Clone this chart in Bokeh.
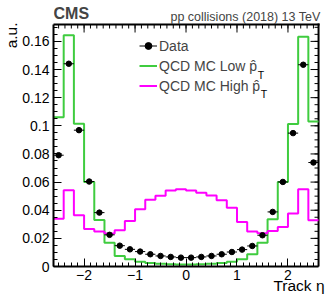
import numpy as np
from bokeh.plotting import figure
from bokeh.models import (Range1d, FixedTicker, CustomJSTickFormatter,
                          Label, Legend, LegendItem, Title)
from bokeh.embed import file_html
from bokeh.resources import INLINE

# ---------------- data ----------------
eta_centers = [-2.5, -2.3, -2.1, -1.9, -1.7, -1.5, -1.3, -1.1, -0.9, -0.7, -0.5, -0.3, -0.1,
               0.1, 0.3, 0.5, 0.7, 0.9, 1.1, 1.3, 1.5, 1.7, 1.9, 2.1, 2.3, 2.5]
bin_width = 0.2

data_vals = [0.0791, 0.1441, 0.0969, 0.0604, 0.0383, 0.0225, 0.0148, 0.0122, 0.0106, 0.0087,
             0.0075, 0.0068, 0.0063, 0.0063, 0.0068, 0.0075, 0.0087, 0.0103, 0.0120, 0.0146,
             0.0222, 0.0388, 0.0601, 0.0948, 0.1434, 0.0739]

low_pt_vals = [0.1060, 0.1643, 0.1015, 0.0600, 0.0331, 0.0168, 0.0075, 0.0052, 0.0033, 0.0024,
               0.0019, 0.0016, 0.0015, 0.0015, 0.0016, 0.0019, 0.0024, 0.0034, 0.0051, 0.0087,
               0.0169, 0.0336, 0.0601, 0.1012, 0.1633, 0.1031]

high_pt_vals = [0.0340, 0.0542, 0.0364, 0.0267, 0.0248, 0.0234, 0.0258, 0.0324, 0.0407, 0.0475,
                0.0502, 0.0540, 0.0549, 0.0540, 0.0525, 0.0505, 0.0470, 0.0418, 0.0317, 0.0248,
                0.0236, 0.0253, 0.0281, 0.0376, 0.0549, 0.0329]

x_tick_values = [-2, -1, 0, 1, 2]
y_tick_values = [0, 0.02, 0.04, 0.06, 0.08, 0.10, 0.12, 0.14, 0.16]

legend_labels = ["Data", "QCD MC Low p\u0302", "QCD MC High p\u0302"]
x_title = "Track \u03b7"
y_title = "a.u."

# ---------------- style / geometry ----------------
FONT = "Liberation Sans"
GREEN = "#3fcc3f"
MAGENTA = "#ff00ff"
W, H = 332, 302
X0, X1 = -2.6, 2.6          # histogram box
Y0, Y1 = 0.0, 0.172
ML, MB = 52, 36             # pixel space for the left and bottom axes
MR, MT = 1, 1               # small canvas margins right / top of the frame
BOX_R, BOX_T = 14, 24       # pixel gaps right of / above the histogram box
ppx = (W - ML - BOX_R) / (X1 - X0)
ppy = (H - MB - BOX_T) / (Y1 - Y0)
XE = X1 + (BOX_R - MR) / ppx   # frame reaches (almost) the canvas edge, header texts inside it
YE = Y1 + (BOX_T - MT) / ppy

p = figure(width=W, height=H, output_backend="svg", toolbar_location=None,
           x_range=Range1d(X0, XE), y_range=Range1d(Y0, YE),
           min_border_left=ML, min_border_right=MR, min_border_top=MT, min_border_bottom=MB)
p.xgrid.visible = False
p.ygrid.visible = False
p.outline_line_alpha = 0
p.background_fill_color = "white"
p.border_fill_color = "white"

x_minor = list(np.round(np.arange(-2.5, 2.5001, 0.125), 4))
y_minor = list(np.round(np.arange(0, 0.1701, 0.005), 4))
xt = FixedTicker(ticks=x_tick_values, minor_ticks=x_minor)
yt = FixedTicker(ticks=y_tick_values, minor_ticks=y_minor)

xfmt = CustomJSTickFormatter(code="return tick < 0 ? '\\u2212' + Math.abs(tick) : String(tick);")
yfmt = CustomJSTickFormatter(code="return String(Math.round(tick*100)/100);")


def style_axis(ax, ticker, fmt, bounds):
    ax.ticker = ticker
    ax.formatter = fmt
    ax.bounds = bounds
    ax.axis_line_color = "black"
    ax.axis_line_width = 2
    ax.major_tick_in = 8
    ax.major_tick_out = 0
    ax.minor_tick_in = 4
    ax.minor_tick_out = 0
    ax.major_tick_line_color = "black"
    ax.minor_tick_line_color = "black"
    ax.major_tick_line_width = 1
    ax.minor_tick_line_width = 1
    ax.major_label_text_font = FONT
    ax.major_label_text_font_size = "14px"
    ax.major_label_text_color = "black"
    ax.axis_label = None


style_axis(p.xaxis[0], xt, xfmt, (X0, X1))
p.xaxis[0].major_label_standoff = 3
style_axis(p.yaxis[0], yt, yfmt, (Y0, Y1))
p.yaxis[0].major_label_standoff = 4


def make_title(text, align, valign, offset, standoff):
    t = Title(text=text, align=align, vertical_align=valign, offset=offset,
              text_font=FONT, text_font_size="15.5px", text_font_style="normal",
              text_color="black")
    try:
        t.standoff = standoff
    except ValueError:
        t.standoff = 0
    return t


# axis titles at the box corners (ROOT style), right / top aligned
p.add_layout(make_title(y_title, "right", "bottom", BOX_T - MT - 2, 0), "left")
p.add_layout(make_title(x_title, "right", "top", BOX_R - MR - 6, -12), "below")

# top and right edges of the histogram box, with inside ticks
p.segment(x0=[X0, X1], y0=[Y1, Y0], x1=[X1, X1], y1=[Y1, Y1], line_color="black",
          line_width=2, line_cap="square")
p.ray(x=x_tick_values, y=Y1, length=8, angle=-np.pi / 2, length_units="screen",
      line_color="black", line_width=1)
p.ray(x=x_minor, y=Y1, length=4, angle=-np.pi / 2, length_units="screen",
      line_color="black", line_width=1)
p.ray(x=X1, y=y_tick_values, length=8, angle=np.pi, length_units="screen",
      line_color="black", line_width=1)
p.ray(x=X1, y=y_minor, length=4, angle=np.pi, length_units="screen",
      line_color="black", line_width=1)

# ---------------- histograms ----------------
centers = np.array(eta_centers)
edges = np.append(centers - bin_width / 2, centers[-1] + bin_width / 2)

r_low = p.step(edges, np.append(low_pt_vals, low_pt_vals[-1]), mode="after",
               line_color=GREEN, line_width=2)
r_high = p.step(edges, np.append(high_pt_vals, high_pt_vals[-1]), mode="after",
                line_color=MAGENTA, line_width=2)

# ---------------- data points ----------------
r_err = p.segment(x0=centers - bin_width / 2, x1=centers + bin_width / 2,
                  y0=data_vals, y1=data_vals, line_color="black", line_width=1)
r_pts = p.scatter(centers, data_vals, size=5.5, marker="circle",
                  fill_color="black", line_color="black")

# ---------------- legend ----------------
legend = Legend(items=[LegendItem(label=legend_labels[0], renderers=[r_err, r_pts]),
                       LegendItem(label=legend_labels[1], renderers=[r_low]),
                       LegendItem(label=legend_labels[2], renderers=[r_high])],
                location=(86, 172), padding=0, margin=0, spacing=3,
                glyph_width=18, glyph_height=17, label_height=17, label_standoff=2,
                label_text_font=FONT, label_text_font_size="14px",
                border_line_alpha=0, background_fill_alpha=0)
p.add_layout(legend)

# subscript T of p-hat (page pixel positions converted to data units)
for txt_end_px, row_base_px in [(257.0, 74.0), (260.0, 93.0)]:
    fx = X0 + (txt_end_px - ML) / ppx
    fy = Y1 - (row_base_px - BOX_T) / ppy
    p.add_layout(Label(x=fx, y=fy, text="T", text_font=FONT, text_font_size="10.5px",
                       text_align="left", text_baseline="alphabetic", text_color="black"))

# ---------------- header texts ----------------
p.add_layout(Label(x=X0, y=Y1 + 11 / ppy, text="CMS", text_font=FONT,
                   text_font_style="bold", text_font_size="16px",
                   text_align="left", text_baseline="alphabetic"))
p.add_layout(Label(x=X1 + 2 / ppx, y=Y1 + 8 / ppy, text="pp collisions (2018) 13 TeV",
                   text_font=FONT, text_font_size="12.5px", text_align="right",
                   text_baseline="alphabetic"))

open("out.html", "w").write(file_html(p, INLINE))
